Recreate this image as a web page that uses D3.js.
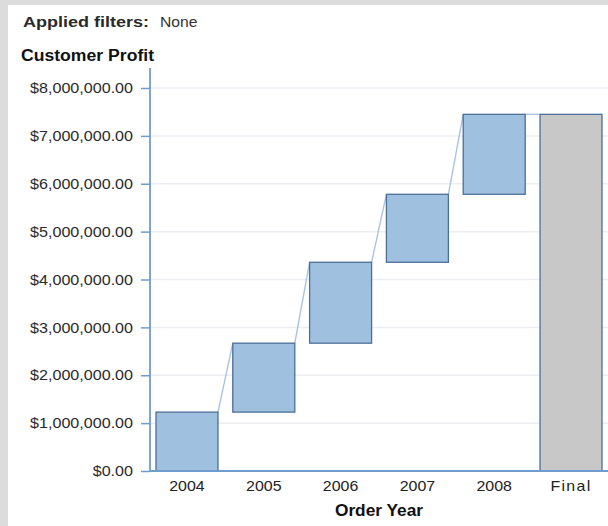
<!DOCTYPE html>
<html>
<head>
<meta charset="utf-8">
<script src="https://cdn.jsdelivr.net/npm/d3@7"></script>
<style>
  html, body { margin: 0; padding: 0; background: #dcdcdc; }
  svg { display: block; font-family: "Liberation Sans", Arial, sans-serif; }
</style>
</head>
<body>
<script>
// Yearly profit contributions, accumulated into a waterfall
const years = ["2004", "2005", "2006", "2007", "2008"];
const increments = [1230000, 1440000, 1690000, 1420000, 1670000];
const finalLabel = "Final";
const yTicks = [0, 1000000, 2000000, 3000000, 4000000, 5000000, 6000000, 7000000, 8000000];

const W = 608, H = 526;
const svg = d3.select("body").append("svg").attr("width", W).attr("height", H);

// widen glyphs slightly, keeping each label's anchor in place
function stretch(sel, k) {
  sel.each(function () {
    const len = this.getComputedTextLength();
    d3.select(this).attr("textLength", len * k).attr("lengthAdjust", "spacingAndGlyphs");
  });
}

// white panel
svg.append("rect").attr("x", 8).attr("y", 5).attr("width", W - 8).attr("height", H - 5).attr("fill", "#ffffff");

// header
svg.append("text").attr("x", 23).attr("y", 27).attr("font-size", 15.5).attr("font-weight", "bold")
  .attr("fill", "#2a2a2a").text("Applied filters:").call(stretch, 1.16);
svg.append("text").attr("x", 160).attr("y", 27).attr("font-size", 14.5)
  .attr("fill", "#333").text("None").call(stretch, 1.08);

svg.append("text").attr("x", 21).attr("y", 61).attr("font-size", 16).attr("font-weight", "bold")
  .attr("fill", "#111").text("Customer Profit").call(stretch, 1.1);

// build the waterfall segments
let run = 0;
const steps = years.map((yr, i) => {
  const start = run;
  run += increments[i];
  return { cat: yr, y0: start, y1: run, final: false };
});
steps.push({ cat: finalLabel, y0: 0, y1: run, final: true });

const plotL = 150, plotR = 608, plotT = 88, plotB = 471;
const x = d3.scaleBand().domain(steps.map(d => d.cat)).range([plotL, plotR]).paddingInner(0.193).paddingOuter(0.078);
const y = d3.scaleLinear().domain([0, 8000000]).range([plotB, plotT]);

// gridlines
svg.append("g").selectAll("line").data(yTicks.slice(1)).join("line")
  .attr("x1", plotL).attr("x2", W).attr("y1", d => y(d)).attr("y2", d => y(d))
  .attr("stroke", "#eceef2").attr("stroke-width", 1.5);

// connectors between consecutive bars
const conn = [];
for (let i = 0; i < steps.length - 1; i++) {
  conn.push({ xa: x(steps[i].cat) + x.bandwidth(), ya: y(steps[i].y1), xb: x(steps[i + 1].cat), yb: y(steps[i + 1].y1) });
}
svg.append("g").selectAll("line").data(conn).join("line")
  .attr("x1", d => d.xa).attr("y1", d => d.ya).attr("x2", d => d.xb).attr("y2", d => d.yb)
  .attr("stroke", "#a9c4e2").attr("stroke-width", 1.4);

// bars
svg.append("g").selectAll("rect").data(steps).join("rect")
  .attr("x", d => x(d.cat)).attr("width", x.bandwidth())
  .attr("y", d => y(d.y1)).attr("height", d => y(d.y0) - y(d.y1))
  .attr("fill", d => d.final ? "#c8c8c8" : "#a0c0e0")
  .attr("stroke", "#4d6f97").attr("stroke-width", 1.3);

// y axis
const fmt = d => "$" + d3.format(",.2f")(d);
const yAxis = svg.append("g").attr("transform", `translate(${plotL},0)`)
  .call(d3.axisLeft(y).tickValues(yTicks).tickFormat(fmt).tickSize(9).tickPadding(8));
yAxis.select(".domain").remove();
yAxis.selectAll(".tick line").attr("stroke", "#6e9bd0").attr("stroke-width", 1.5);
yAxis.selectAll(".tick text").attr("font-size", 14.5).attr("fill", "#2a2a2a")
  .attr("font-family", "\"Liberation Sans\", Arial, sans-serif").call(stretch, 1.11);
svg.append("line").attr("x1", plotL).attr("x2", plotL).attr("y1", 68).attr("y2", plotB)
  .attr("stroke", "#6e9bd0").attr("stroke-width", 1.8);

// x axis
const xAxis = svg.append("g").attr("transform", `translate(0,${plotB})`)
  .call(d3.axisBottom(x).tickSize(0).tickPadding(10));
xAxis.select(".domain").remove();
xAxis.selectAll(".tick text").attr("font-size", 14.5).attr("fill", "#222")
  .attr("font-family", "\"Liberation Sans\", Arial, sans-serif")
  .attr("letter-spacing", d => d === finalLabel ? 1.2 : 0).call(stretch, 1.1);
svg.append("line").attr("x1", plotL).attr("x2", W).attr("y1", plotB).attr("y2", plotB)
  .attr("stroke", "#6e9bd0").attr("stroke-width", 1.8);

svg.append("text").attr("x", 379).attr("y", 516).attr("text-anchor", "middle")
  .attr("font-size", 16).attr("font-weight", "bold").attr("fill", "#111").text("Order Year").call(stretch, 1.08);
</script>
</body>
</html>
